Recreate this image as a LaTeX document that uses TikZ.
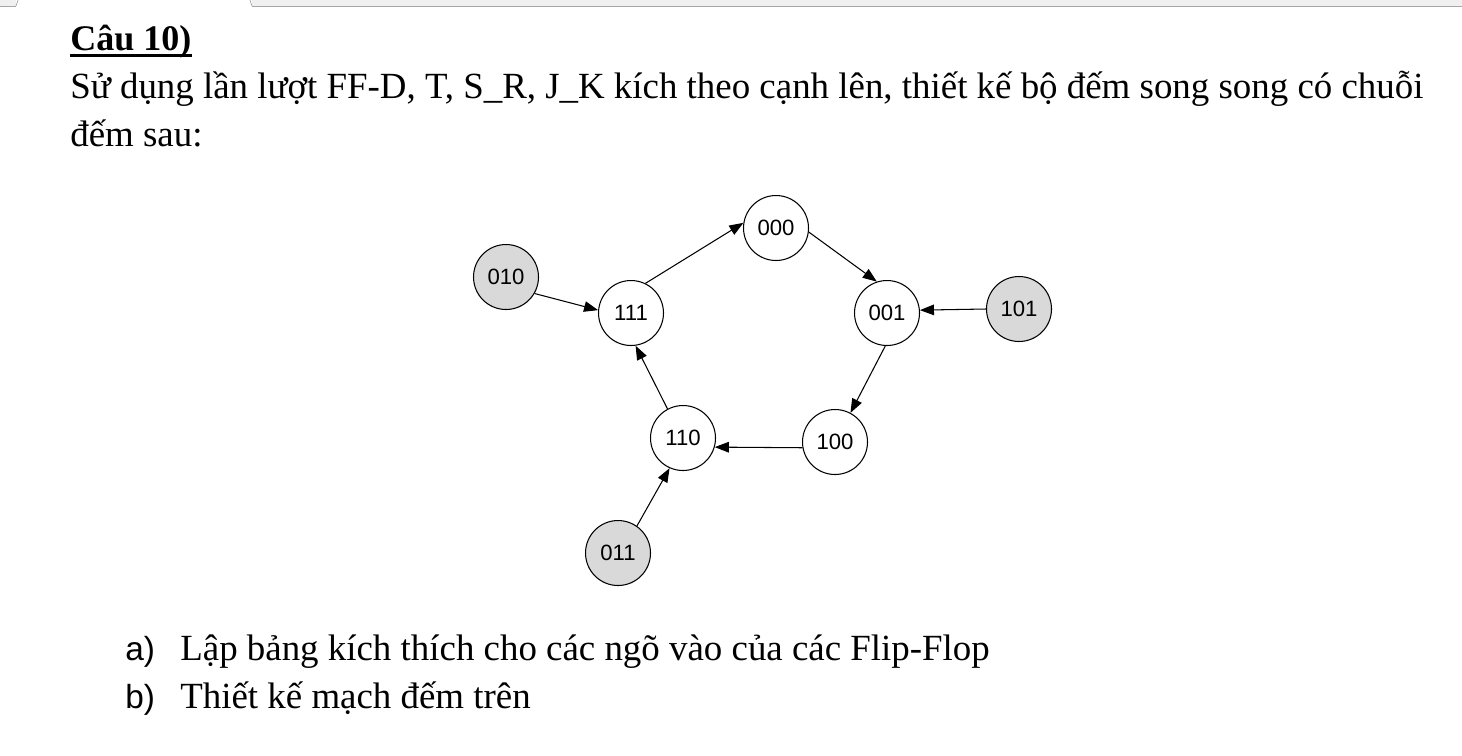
\documentclass[tikz,border=0pt]{standalone}
\usepackage{fontspec}
\setmainfont{Liberation Serif}
\newfontfamily\arialfont{Liberation Sans}
\usetikzlibrary{positioning,arrows.meta}

\begin{document}
\begin{tikzpicture}[x=0.02cm, y=-0.02cm,
    state/.style={circle, draw, line width=0.6pt, minimum size=1.3cm, inner sep=0pt,
        text centered, text=black, font=\arialfont\fontsize{12.6}{14}\selectfont},
    extra/.style={state, fill=black!15},
    line/.style={anchor=base west, inner sep=0pt, font=\fontsize{21}{24}\selectfont},
    >={Triangle[length=8pt,width=6pt]}, every edge/.style={draw, ->, line width=0.6pt}
]
\useasboundingbox (0,0) rectangle (1462,755);

% tab strip of the window
\fill[black!6] (0,0) rectangle (1462,6);
\fill[white] (16,0) rectangle (252,6.5);
\draw[black!35] (0,6) -- (16,6) (252,6) -- (1462,6);
\draw[black!35] (16,6) -- (18,0) (252,6) -- (250,0);

% question text
\node [line, font=\bfseries\fontsize{20.5}{24}\selectfont] (title) at (70,50) {Câu 10)};
\draw [line width=1.7pt] ([yshift=-0.11cm]title.base west) -- ([yshift=-0.11cm]title.base east);
\node [line] (ask1) at (70,98) {Sử dụng lần lượt FF-D, T, S\_R, J\_K kích theo cạnh lên, thiết kế bộ đếm song song có chuỗi};
\node [line] (ask2) at (70,146) {đếm sau:};

% count sequence
\node [state] (s000) at (776,228) {000};
\node [state] (s001) at (887,313) {001};
\node [state] (s100) at (835,442) {100};
\node [state] (s110) at (683,438) {110};
\node [state] (s111) at (631,313) {111};
\node [extra] (s010) at (506,277) {010};
\node [extra] (s101) at (1019,309) {101};
\node [extra] (s011) at (618,553) {011};

\path (s111.64) edge (s000.171)
      (s000.-7) edge (s001.108)
      (s001.-93) edge (s100.62)
      (s100.190) edge (s110.-16)
      (s110.118) edge (s111.-82)
      (s010.-30) edge (s111.175)
      (s101.west) edge (s001.5)
      (s011.55) edge (s110.-114);

% tasks
\node [line, font=\arialfont\fontsize{19}{22}\selectfont] (ia) at (125,660) {a)};
\node [line] (ta) at (180,660) {Lập bảng kích thích cho các ngõ vào của các Flip-Flop};
\node [line, font=\arialfont\fontsize{19}{22}\selectfont] (ib) at (125,708) {b)};
\node [line] (tb) at (180,708) {Thiết kế mạch đếm trên};

\end{tikzpicture}
\end{document}
